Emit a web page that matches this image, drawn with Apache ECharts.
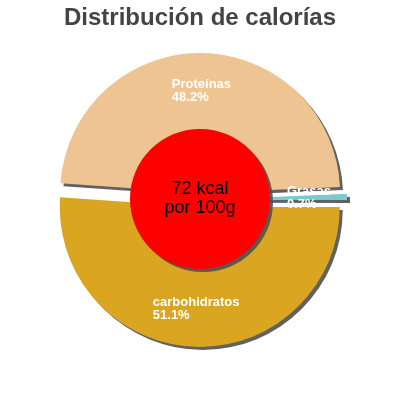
<!DOCTYPE html>
<html>
<head>
<meta charset="utf-8">
<script src="https://cdn.jsdelivr.net/npm/echarts@6/dist/echarts.min.js"></script>
<style>
  html, body { margin: 0; padding: 0; background: #fff; }
  #chart { width: 400px; height: 400px; }
</style>
</head>
<body>
<div id="chart"></div>
<script>
// datos
var names = ['Proteínas', 'Grasas', 'carbohidratos'];
var percents = [48.2, 0.7, 51.1];
var colors = ['#EDC492', '#7EC8CF', '#DAA520'];
var kcal = 72;
var centerLines = [kcal + ' kcal', 'por 100g'];

var chart = echarts.init(document.getElementById('chart'));

function makeData(transparent) {
    return names.map(function (n, i) {
        return {
            name: n,
            value: percents[i],
            selected: true,
            itemStyle: {color: transparent ? 'rgba(0,0,0,0)' : colors[i]}
        };
    });
}

var pieBase = {
    type: 'pie',
    center: [200, 200],
    startAngle: 176,
    clockwise: true,
    selectedMode: 'multiple',
    selectedOffset: 7,
    silent: true,
    labelLine: {show: false},
    emphasis: {disabled: true}
};

var option = {
    animation: false,
    title: {
        text: 'Distribución de calorías',
        left: 'center',
        top: 1,
        textStyle: {
            fontFamily: 'Liberation Sans, Arial, sans-serif',
            fontSize: 24,
            fontWeight: 'bold',
            color: '#444'
        }
    },
    series: [
        // porciones
        Object.assign({}, pieBase, {
            radius: [0, 140],
            itemStyle: {
                borderWidth: 0,
                shadowColor: 'rgba(80,80,80,0.9)',
                shadowBlur: 0,
                shadowOffsetX: 3,
                shadowOffsetY: 3
            },
            label: {show: false},
            data: makeData(false)
        }),
        // etiquetas
        Object.assign({}, pieBase, {
            radius: [58, 140],
            z: 3,
            itemStyle: {borderWidth: 0},
            label: {
                show: true,
                position: 'inside',
                formatter: function (p) {
                    return '{a|' + p.name + '}\n{a|' + p.value + '%}';
                },
                rich: {
                    a: {
                        color: '#fff',
                        fontFamily: 'Liberation Sans, Arial, sans-serif',
                        fontSize: 13,
                        fontWeight: 'bold',
                        lineHeight: 13,
                        align: 'left'
                    }
                }
            },
            data: makeData(true)
        }),
        // círculo central
        {
            type: 'pie',
            center: [200, 199],
            radius: [0, 70],
            silent: true,
            z: 5,
            itemStyle: {
                color: '#FF0000',
                shadowColor: 'rgba(80,80,80,0.9)',
                shadowBlur: 0,
                shadowOffsetX: 3,
                shadowOffsetY: 3
            },
            label: {
                show: true,
                position: 'center',
                formatter: centerLines.join('\n'),
                color: '#000',
                fontFamily: 'Liberation Sans, Arial, sans-serif',
                fontSize: 18,
                lineHeight: 19
            },
            labelLine: {show: false},
            emphasis: {disabled: true},
            data: [{name: 'kcal', value: kcal}]
        }
    ]
};

chart.setOption(option);
</script>
</body>
</html>
